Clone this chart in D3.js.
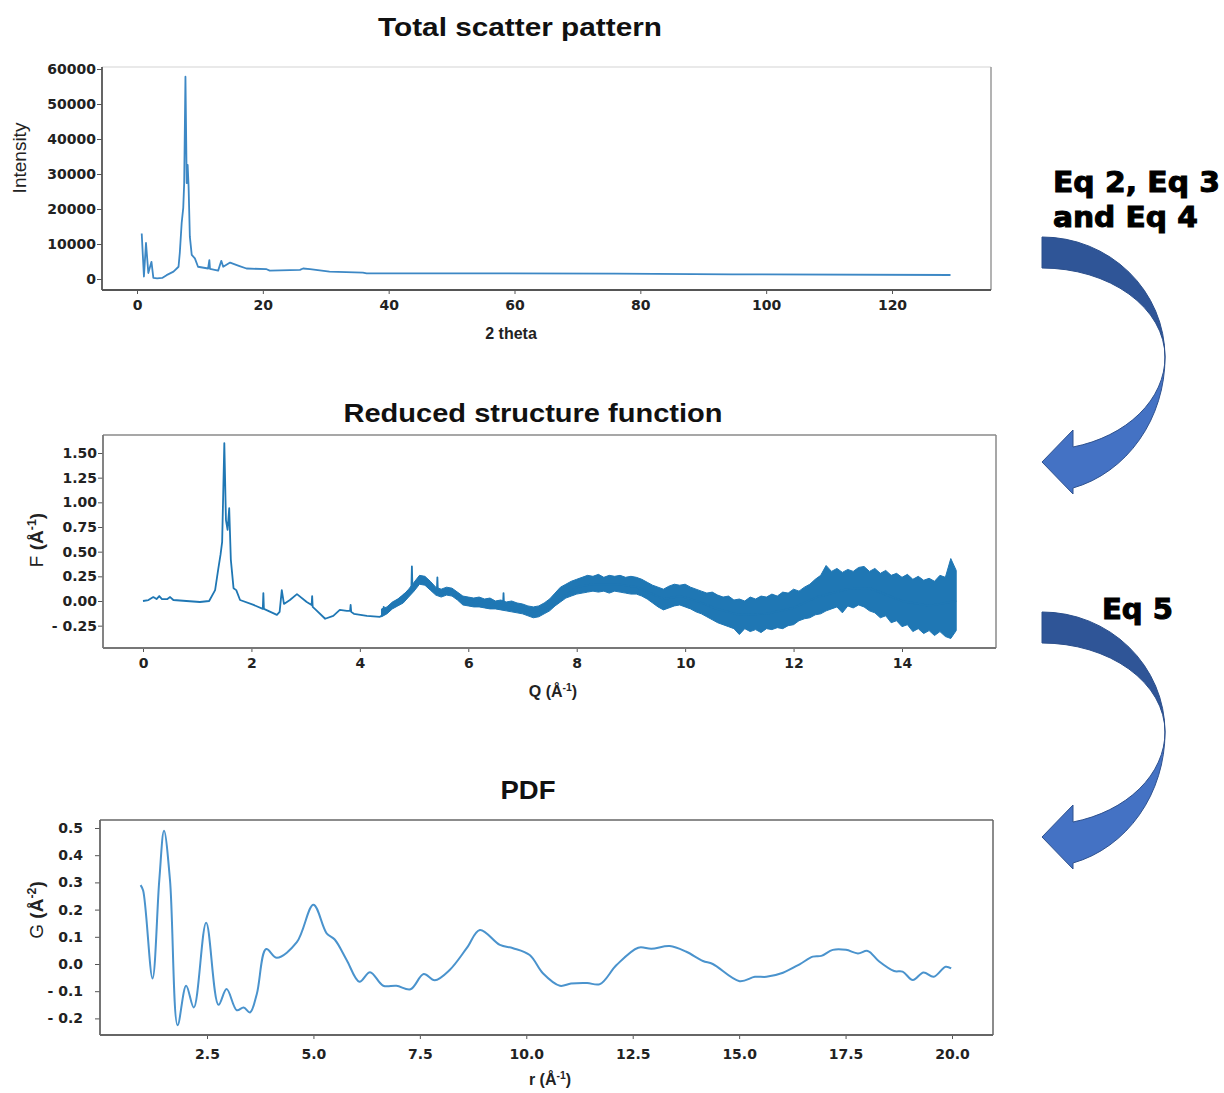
<!DOCTYPE html>
<html>
<head>
<meta charset="utf-8">
<script src="https://cdn.jsdelivr.net/npm/d3@7"></script>
<style>
  body { margin: 0; background: #fff; }
  svg { display: block; font-family: "Liberation Sans", Arial, sans-serif; }
  .tick text { font-family: "DejaVu Sans", sans-serif; font-weight: bold; fill: #222; font-size: 14px; }
</style>
</head>
<body>
<div id="chart"></div>
<script>
// --- total scatter pattern (2 theta vs intensity)
var scatterTheta = [0.75, 1.1, 1.43, 1.8, 2.3, 2.6, 3.2, 4.0, 4.7, 5.8, 6.6, 6.8, 7.1, 7.35, 7.5, 7.7, 7.9, 8.05, 8.2, 8.4, 8.7, 9.2, 9.7, 11.3, 11.5, 11.6, 12.9, 13.4, 13.7, 14.8, 16.3, 17.4, 20.6, 21.1, 25.9, 26.4, 27.5, 30.6, 35.9, 36.5, 57.6, 76.1, 94.6, 129.3];
var scatterIntensity = [13000, 700, 10300, 1700, 4900, 300, 200, 300, 1100, 2100, 3500, 7400, 16000, 20300, 27400, 57800, 27400, 32600, 26400, 12100, 6900, 5900, 3500, 3000, 5400, 2900, 2400, 5200, 3500, 4700, 3700, 3000, 2800, 2400, 2600, 3000, 2800, 2100, 1800, 1600, 1600, 1550, 1350, 1150];
var scatterXTicks = [0, 20, 40, 60, 80, 100, 120];
var scatterYTicks = [0, 10000, 20000, 30000, 40000, 50000, 60000];

// --- reduced structure function F(Q)
var fqQ = [0, 0.1, 0.19, 0.25, 0.3, 0.35, 0.45, 0.5, 0.56, 0.8, 1.05, 1.22, 1.33, 1.39, 1.43, 1.46, 1.5, 1.53, 1.56, 1.59, 1.62, 1.67, 1.72, 1.79, 2.04, 2.21, 2.22, 2.23, 2.47, 2.52, 2.56, 2.6, 2.71, 2.84, 3.02, 3.11, 3.12, 3.13, 3.17, 3.36, 3.51, 3.63, 3.76, 3.82, 3.83, 3.84, 3.89, 4.13, 4.37, 4.43, 4.44, 4.45, 4.59, 4.8, 4.95, 4.96, 4.97, 5.14, 5.3, 5.42, 5.43, 5.44, 5.48, 5.7, 5.97, 6.6, 6.64, 6.65, 6.66, 7.2, 7.51, 8.0, 8.31, 8.74, 9.11, 9.6, 9.91, 10.22, 10.58, 11.0, 11.5, 12.0, 12.43, 12.98, 13.4, 14.0, 14.5, 15.0];
var fqF = [0, 0.01, 0.04, 0.02, 0.05, 0.02, 0.02, 0.04, 0.01, 0.0, -0.01, 0.0, 0.11, 0.33, 0.47, 0.6, 1.6, 0.82, 0.72, 0.94, 0.42, 0.13, 0.11, 0.01, -0.04, -0.08, 0.08, -0.08, -0.14, -0.11, 0.11, -0.03, 0.01, 0.07, -0.01, -0.04, 0.05, -0.06, -0.08, -0.18, -0.15, -0.09, -0.1, -0.1, -0.04, -0.11, -0.13, -0.15, -0.16, -0.14, -0.06, -0.13, -0.04, 0.06, 0.12, 0.35, 0.13, 0.22, 0.17, 0.1, 0.24, 0.08, 0.08, 0.09, 0.0, -0.04, -0.05, 0.08, -0.05, -0.11, -0.06, 0.14, 0.17, 0.17, 0.14, 0.02, 0.05, 0.0, -0.08, -0.14, -0.13, -0.07, 0.04, 0.12, 0.13, 0.0, -0.05, 0.0];
// noise envelope of F(Q) (upper and lower edge)
var noiseQ = [4.4, 4.5, 4.6, 4.7, 4.8, 4.9, 5.0, 5.1, 5.2, 5.3, 5.4, 5.5, 5.6, 5.7, 5.8, 5.9, 6.0, 6.1, 6.2, 6.3, 6.4, 6.5, 6.6, 6.7, 6.8, 6.9, 7.0, 7.1, 7.2, 7.3, 7.4, 7.5, 7.6, 7.7, 7.8, 7.9, 8.0, 8.1, 8.2, 8.3, 8.4, 8.5, 8.6, 8.7, 8.8, 8.9, 9.0, 9.1, 9.2, 9.3, 9.4, 9.5, 9.6, 9.7, 9.8, 9.9, 10.0, 10.1, 10.2, 10.3, 10.4, 10.5, 10.6, 10.7, 10.8, 10.9, 11.0, 11.1, 11.2, 11.3, 11.4, 11.5, 11.6, 11.7, 11.8, 11.9, 12.0, 12.1, 12.2, 12.3, 12.4, 12.5, 12.6, 12.7, 12.8, 12.9, 13.0, 13.1, 13.2, 13.3, 13.4, 13.5, 13.6, 13.7, 13.8, 13.9, 14.0, 14.1, 14.2, 14.3, 14.4, 14.5, 14.6, 14.7, 14.8, 14.9, 15.0];
var noiseHi = [-0.08, -0.06, -0.01, 0.02, 0.06, 0.12, 0.19, 0.26, 0.25, 0.2, 0.14, 0.12, 0.14, 0.13, 0.09, 0.05, 0.04, 0.03, 0.04, 0.02, 0.03, 0.0, 0.01, -0.01, 0.0, -0.02, -0.03, -0.05, -0.06, -0.05, -0.02, 0.02, 0.08, 0.14, 0.17, 0.2, 0.22, 0.24, 0.26, 0.25, 0.27, 0.24, 0.26, 0.25, 0.26, 0.24, 0.25, 0.24, 0.22, 0.19, 0.16, 0.14, 0.12, 0.15, 0.17, 0.16, 0.17, 0.14, 0.12, 0.1, 0.08, 0.09, 0.06, 0.04, 0.05, 0.01, 0.02, 0.0, 0.04, 0.02, 0.05, 0.04, 0.07, 0.05, 0.09, 0.08, 0.12, 0.1, 0.14, 0.17, 0.22, 0.26, 0.36, 0.3, 0.33, 0.29, 0.32, 0.3, 0.34, 0.35, 0.3, 0.33, 0.28, 0.31, 0.26, 0.28, 0.24, 0.27, 0.22, 0.25, 0.21, 0.23, 0.2, 0.26, 0.24, 0.43, 0.31];
var noiseLo = [-0.16, -0.13, -0.08, -0.05, -0.02, 0.04, 0.1, 0.17, 0.16, 0.11, 0.06, 0.04, 0.06, 0.05, 0.01, -0.04, -0.05, -0.06, -0.06, -0.07, -0.08, -0.08, -0.09, -0.1, -0.11, -0.12, -0.13, -0.15, -0.17, -0.16, -0.13, -0.1, -0.05, -0.01, 0.03, 0.05, 0.07, 0.08, 0.09, 0.1, 0.09, 0.1, 0.08, 0.1, 0.09, 0.08, 0.07, 0.07, 0.05, 0.02, -0.02, -0.06, -0.09, -0.07, -0.05, -0.04, -0.06, -0.08, -0.11, -0.13, -0.16, -0.19, -0.22, -0.24, -0.26, -0.28, -0.34, -0.28, -0.31, -0.29, -0.32, -0.28, -0.29, -0.27, -0.28, -0.25, -0.24, -0.2, -0.18, -0.17, -0.14, -0.13, -0.1, -0.08, -0.06, -0.12, -0.05, -0.07, -0.04, -0.06, -0.1, -0.12, -0.17, -0.15, -0.22, -0.2, -0.26, -0.24, -0.31, -0.28, -0.33, -0.3, -0.35, -0.31, -0.36, -0.38, -0.3];
var fqXTicks = [0, 2, 4, 6, 8, 10, 12, 14];
var fqYTicks = [-0.25, 0, 0.25, 0.5, 0.75, 1.0, 1.25, 1.5];

// --- PDF G(r)
var pdfR = [0.94, 1.0, 1.22, 1.38, 1.49, 1.63, 1.81, 2.01, 2.19, 2.48, 2.77, 2.96, 3.2, 3.36, 3.51, 3.67, 3.89, 4.14, 4.61, 5.0, 5.31, 5.5, 5.78, 6.08, 6.33, 6.64, 6.95, 7.28, 7.59, 7.85, 8.2, 8.6, 8.91, 9.38, 9.69, 10.08, 10.39, 10.79, 11.05, 11.43, 11.73, 12.12, 12.63, 12.94, 13.37, 13.76, 14.15, 14.38, 15.01, 15.37, 15.64, 16.03, 16.42, 16.73, 16.93, 17.2, 17.51, 17.79, 18.02, 18.29, 18.64, 18.84, 19.08, 19.33, 19.57, 19.85, 19.98];
var pdfG = [0.29, 0.27, -0.053, 0.31, 0.49, 0.31, -0.225, -0.08, -0.16, 0.152, -0.15, -0.092, -0.17, -0.16, -0.178, -0.11, 0.055, 0.023, 0.08, 0.218, 0.113, 0.09, 0.015, -0.065, -0.03, -0.08, -0.08, -0.093, -0.037, -0.06, -0.022, 0.058, 0.125, 0.07, 0.058, 0.033, -0.034, -0.08, -0.072, -0.07, -0.074, -0.004, 0.06, 0.056, 0.066, 0.045, 0.011, 0.0, -0.063, -0.047, -0.047, -0.032, -0.001, 0.027, 0.03, 0.052, 0.052, 0.039, 0.048, 0.009, -0.026, -0.028, -0.059, -0.031, -0.047, -0.01, -0.016];
var pdfXTicks = [2.5, 5.0, 7.5, 10.0, 12.5, 15.0, 17.5, 20.0];
var pdfYTicks = [-0.2, -0.1, 0.0, 0.1, 0.2, 0.3, 0.4, 0.5];

var W = 1224, H = 1093;
var svg = d3.select('#chart').append('svg').attr('width', W).attr('height', H);

// make a scale from two reference ticks, then stretch it to the frame edges
function calScale(v0, p0, v1, p1, e0, e1) {
    var s = d3.scaleLinear().domain([v0, v1]).range([p0, p1]);
    return d3.scaleLinear().domain([s.invert(e0), s.invert(e1)]).range([e0, e1]);
}

function signed(fmt) {
    var f = d3.format(fmt);
    return function (v) { return v < 0 ? '- ' + f(-v) : f(v); };
}

function drawPanel(o) {
    var x = calScale(o.xCal[0], o.xCal[1], o.xCal[2], o.xCal[3], o.box[0], o.box[2]);
    var y = calScale(o.yCal[0], o.yCal[1], o.yCal[2], o.yCal[3], o.box[3], o.box[1]);
    var g = svg.append('g');

    // the title font in the picture is wider than Arial, so stretch it
    g.append('text')
        .attr('x', o.titleX).attr('y', o.titleY)
        .attr('text-anchor', 'middle')
        .attr('textLength', o.titleWidth).attr('lengthAdjust', 'spacingAndGlyphs')
        .style('font-size', '25px').style('font-weight', 'bold').style('fill', '#111')
        .text(o.title);

    var xa = g.append('g')
        .attr('transform', 'translate(0,' + o.box[3] + ')')
        .call(d3.axisBottom(x).tickValues(o.xTicks).tickFormat(signed(o.xFmt)).tickSize(4).tickPadding(o.xPad));
    xa.select('.domain').remove();
    xa.selectAll('.tick line').attr('stroke', '#555');

    var ya = g.append('g')
        .attr('transform', 'translate(' + o.box[0] + ',0)')
        .call(d3.axisLeft(y).tickValues(o.yTicks).tickFormat(signed(o.yFmt)).tickSize(5).tickPadding(o.yPad));
    ya.select('.domain').remove();
    ya.selectAll('.tick line').attr('stroke', '#555');

    if (o.band) {
        g.append('path')
            .datum(d3.range(o.band.q.length))
            .attr('fill', o.color)
            .attr('stroke', o.color)
            .attr('stroke-width', 1)
            .attr('d', d3.area()
                .x(function (i) { return x(o.band.q[i]); })
                .y0(function (i) { return y(o.band.lo[i]); })
                .y1(function (i) { return y(o.band.hi[i]); }));
    }

    g.append('path')
        .datum(d3.range(o.xs.length))
        .attr('fill', 'none')
        .attr('stroke', o.color)
        .attr('stroke-width', o.lineWidth)
        .attr('stroke-linejoin', 'round')
        .attr('d', d3.line()
            .x(function (i) { return x(o.xs[i]); })
            .y(function (i) { return y(o.ys[i]); })
            .curve(o.curve || d3.curveLinear));

    // frame
    var b = o.box;
    g.append('line').attr('x1', b[0]).attr('x2', b[2]).attr('y1', b[1]).attr('y2', b[1])
        .attr('stroke', o.topColor).attr('stroke-width', 1.5);
    g.append('line').attr('x1', b[2]).attr('x2', b[2]).attr('y1', b[1]).attr('y2', b[3])
        .attr('stroke', o.rightColor).attr('stroke-width', 1.5);
    g.append('line').attr('x1', b[0]).attr('x2', b[0]).attr('y1', b[1]).attr('y2', b[3])
        .attr('stroke', o.axisColor).attr('stroke-width', 1.8);
    g.append('line').attr('x1', b[0]).attr('x2', b[2]).attr('y1', b[3]).attr('y2', b[3])
        .attr('stroke', o.axisColor).attr('stroke-width', 1.8);

    // axis titles
    var xl = g.append('text')
        .attr('x', o.xLabelPos[0]).attr('y', o.xLabelPos[1])
        .attr('text-anchor', 'middle')
        .style('font-size', '16px').style('font-weight', 'bold').style('fill', '#222');
    o.xLabel(xl);

    var yl = g.append('text')
        .attr('transform', 'translate(' + o.yLabelPos[0] + ',' + o.yLabelPos[1] + ') rotate(-90)')
        .attr('text-anchor', 'middle')
        .style('font-size', '19px').style('fill', '#222');
    o.yLabel(yl);
}

// label helpers for the "(Å-n)" unit parts
function unitLabel(prefix, sup, prefixBold) {
    return function (t) {
        t.append('tspan').style('font-weight', prefixBold ? 'bold' : 'normal').text(prefix + ' ');
        t.append('tspan').style('font-weight', 'bold').text('(Å');
        t.append('tspan').style('font-weight', 'bold').style('font-size', '0.65em').attr('dy', '-0.55em').text(sup);
        t.append('tspan').style('font-weight', 'bold').attr('dy', '0.36em').text(')');
    };
}

drawPanel({
    title: 'Total scatter pattern', titleX: 520, titleY: 36, titleWidth: 284,
    box: [102, 67, 991, 290],
    xCal: [0, 137, 120, 892], yCal: [0, 279, 60000, 69],
    xTicks: scatterXTicks, yTicks: scatterYTicks, xFmt: 'd', yFmt: 'd', xPad: 6, yPad: 1,
    xs: scatterTheta, ys: scatterIntensity, color: '#3d88c5', lineWidth: 1.8,
    topColor: '#e2e2e2', rightColor: '#9a9a9a', axisColor: '#555',
    xLabelPos: [511, 339], xLabel: function (t) { t.text('2 theta'); },
    yLabelPos: [26, 158], yLabel: function (t) { t.text('Intensity'); }
});

drawPanel({
    title: 'Reduced structure function', titleX: 533, titleY: 422, titleWidth: 379,
    box: [103, 435, 996, 648],
    xCal: [0, 143, 14, 902], yCal: [0, 601, 1.5, 453],
    xTicks: fqXTicks, yTicks: fqYTicks, xFmt: 'd', yFmt: '.2f', xPad: 6, yPad: 1,
    xs: fqQ, ys: fqF, color: '#1f77b4', lineWidth: 1.8,
    band: { q: noiseQ, hi: noiseHi, lo: noiseLo },
    topColor: '#8a8a8a', rightColor: '#8a8a8a', axisColor: '#777',
    xLabelPos: [553, 697], xLabel: unitLabel('Q', '-1', true),
    yLabelPos: [43, 540], yLabel: unitLabel('F', '-1', false)
});

drawPanel({
    title: 'PDF', titleX: 528, titleY: 799, titleWidth: 55,
    box: [100, 820, 993, 1035],
    xCal: [2.5, 207, 20, 952], yCal: [0, 964, 0.5, 828],
    xTicks: pdfXTicks, yTicks: pdfYTicks, xFmt: '.1f', yFmt: '.1f', xPad: 10, yPad: 12,
    xs: pdfR, ys: pdfG, color: '#4a93cd', lineWidth: 2, curve: d3.curveCatmullRom.alpha(0.5),
    topColor: '#666', rightColor: '#666', axisColor: '#666',
    xLabelPos: [550, 1085], xLabel: unitLabel('r', '-1', true),
    yLabelPos: [43, 910], yLabel: unitLabel('G', '-2', false)
});

// curved arrows on the right
function curvedArrow(dy) {
    var a = svg.append('g').attr('transform', 'translate(0,' + dy + ')');
    // back (upper) half, darker
    a.append('path')
        .attr('d', 'M1042,237 A123,120 0 0 1 1165,357 A123,89 0 0 0 1042,268 Z')
        .attr('fill', '#2f5597').attr('stroke', '#2b4f8c').attr('stroke-width', 1);
    // front (lower) half with the head
    a.append('path')
        .attr('d', 'M1165,357 A123,135 0 0 1 1073,488 L1073,494 L1042,462 L1073,430 L1073,447 A123,93 0 0 0 1165,357 Z')
        .attr('fill', '#4472c4').attr('stroke', '#2f528f').attr('stroke-width', 1);
}
curvedArrow(0);
curvedArrow(375);

function eqText(x, y, s, w) {
    svg.append('text').attr('x', x).attr('y', y)
        .attr('textLength', w).attr('lengthAdjust', 'spacingAndGlyphs')
        .style('font-family', '"DejaVu Sans", sans-serif')
        .style('font-size', '28px').style('font-weight', 'bold').style('fill', '#000')
        .style('stroke', '#000').style('stroke-width', 1)
        .text(s);
}
eqText(1053, 192, 'Eq 2, Eq 3', 167);
eqText(1053, 227, 'and Eq 4', 145);
eqText(1102, 619, 'Eq 5', 71);
</script>
</body>
</html>
